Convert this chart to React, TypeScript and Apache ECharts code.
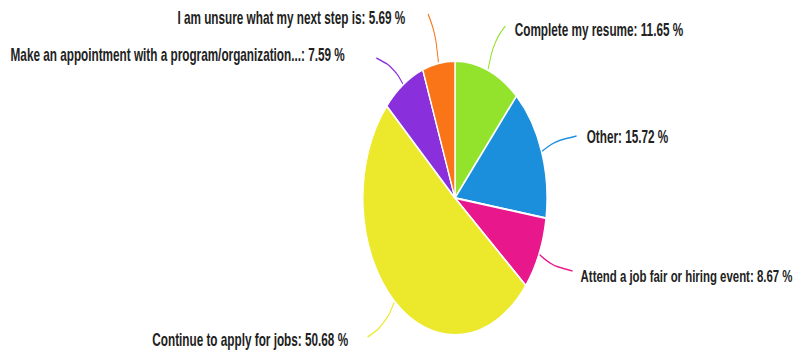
import React, { useEffect, useRef } from "react";
import * as echarts from "echarts";

const categories = [
  "Complete my resume",
  "Other",
  "Attend a job fair or hiring event",
  "Continue to apply for jobs",
  "Make an appointment with a program/organization...",
  "I am unsure what my next step is",
];
const values = [11.65, 15.72, 8.67, 50.68, 7.59, 5.69];
const colors = ["#93e22c", "#1b8fdc", "#e9178c", "#ece82c", "#8a2fdc", "#fa7418"];

const SX = 0.672;
const W = Math.round(799 / SX);
const H = 352;

// label layout positions (unscaled px): [x, y, align, lineEndX, lineEndY, fontSize]
const labelPos: [number, number, string, number, number, number][] = [
  [766, 30, "left", 752, 26, 17.5],
  [873, 137, "left", 858, 136, 17.5],
  [864, 276, "left", 852, 271, 17],
  [518, 340, "right", 547, 337, 17.5],
  [513, 55, "right", 560, 58, 17.5],
  [603, 18, "right", 637, 14, 17.5],
];

export default function App() {
  const ref = useRef<HTMLDivElement>(null);
  useEffect(() => {
    if (!ref.current) return;
    const chart = echarts.init(ref.current, undefined, { renderer: "svg" });
    chart.setOption({
      animation: false,
      series: [
        {
          type: "pie",
          center: [677, 198],
          radius: 137,
          startAngle: 90,
          clockwise: true,
          data: categories.map((n, i) => ({
            name: n,
            value: values[i],
            itemStyle: { color: colors[i] },
            label: { fontSize: labelPos[i][5] },
            labelLine: { lineStyle: { color: colors[i] } },
          })),
          itemStyle: { borderColor: "#ffffff", borderWidth: 2 },
          label: {
            show: true,
            formatter: (p: any) => `${p.name}: ${p.value.toFixed(2)} %`,
            fontFamily: "Liberation Sans, Arial, sans-serif",
            fontWeight: "bold",
            fontSize: 17.5,
            color: "#222222",
          },
          labelLine: { show: true, smooth: 0.4, lineStyle: { width: 1.5 } },
          labelLayout: (params: any) => {
            const lp = labelPos[params.dataIndex];
            const start = params.labelLinePoints ? params.labelLinePoints[0] : [lp[3], lp[4]];
            const end = [lp[3], lp[4]];
            const mid = [start[0] + (end[0] - start[0]) * 0.35, start[1] + (end[1] - start[1]) * 0.65];
            return {
              x: lp[0],
              y: lp[1],
              align: lp[2],
              verticalAlign: "middle",
              labelLinePoints: [start, mid, end],
            };
          },
        },
      ],
    });
    return () => chart.dispose();
  }, []);
  return (
    <div
      style={{
        position: "fixed",
        left: 0,
        top: 0,
        width: 799,
        height: H,
        overflow: "hidden",
        background: "#ffffff",
      }}
    >
      <div
        ref={ref}
        style={{
          width: W,
          height: H,
          transform: `scaleX(${SX})`,
          transformOrigin: "0 0",
        }}
      />
    </div>
  );
}
